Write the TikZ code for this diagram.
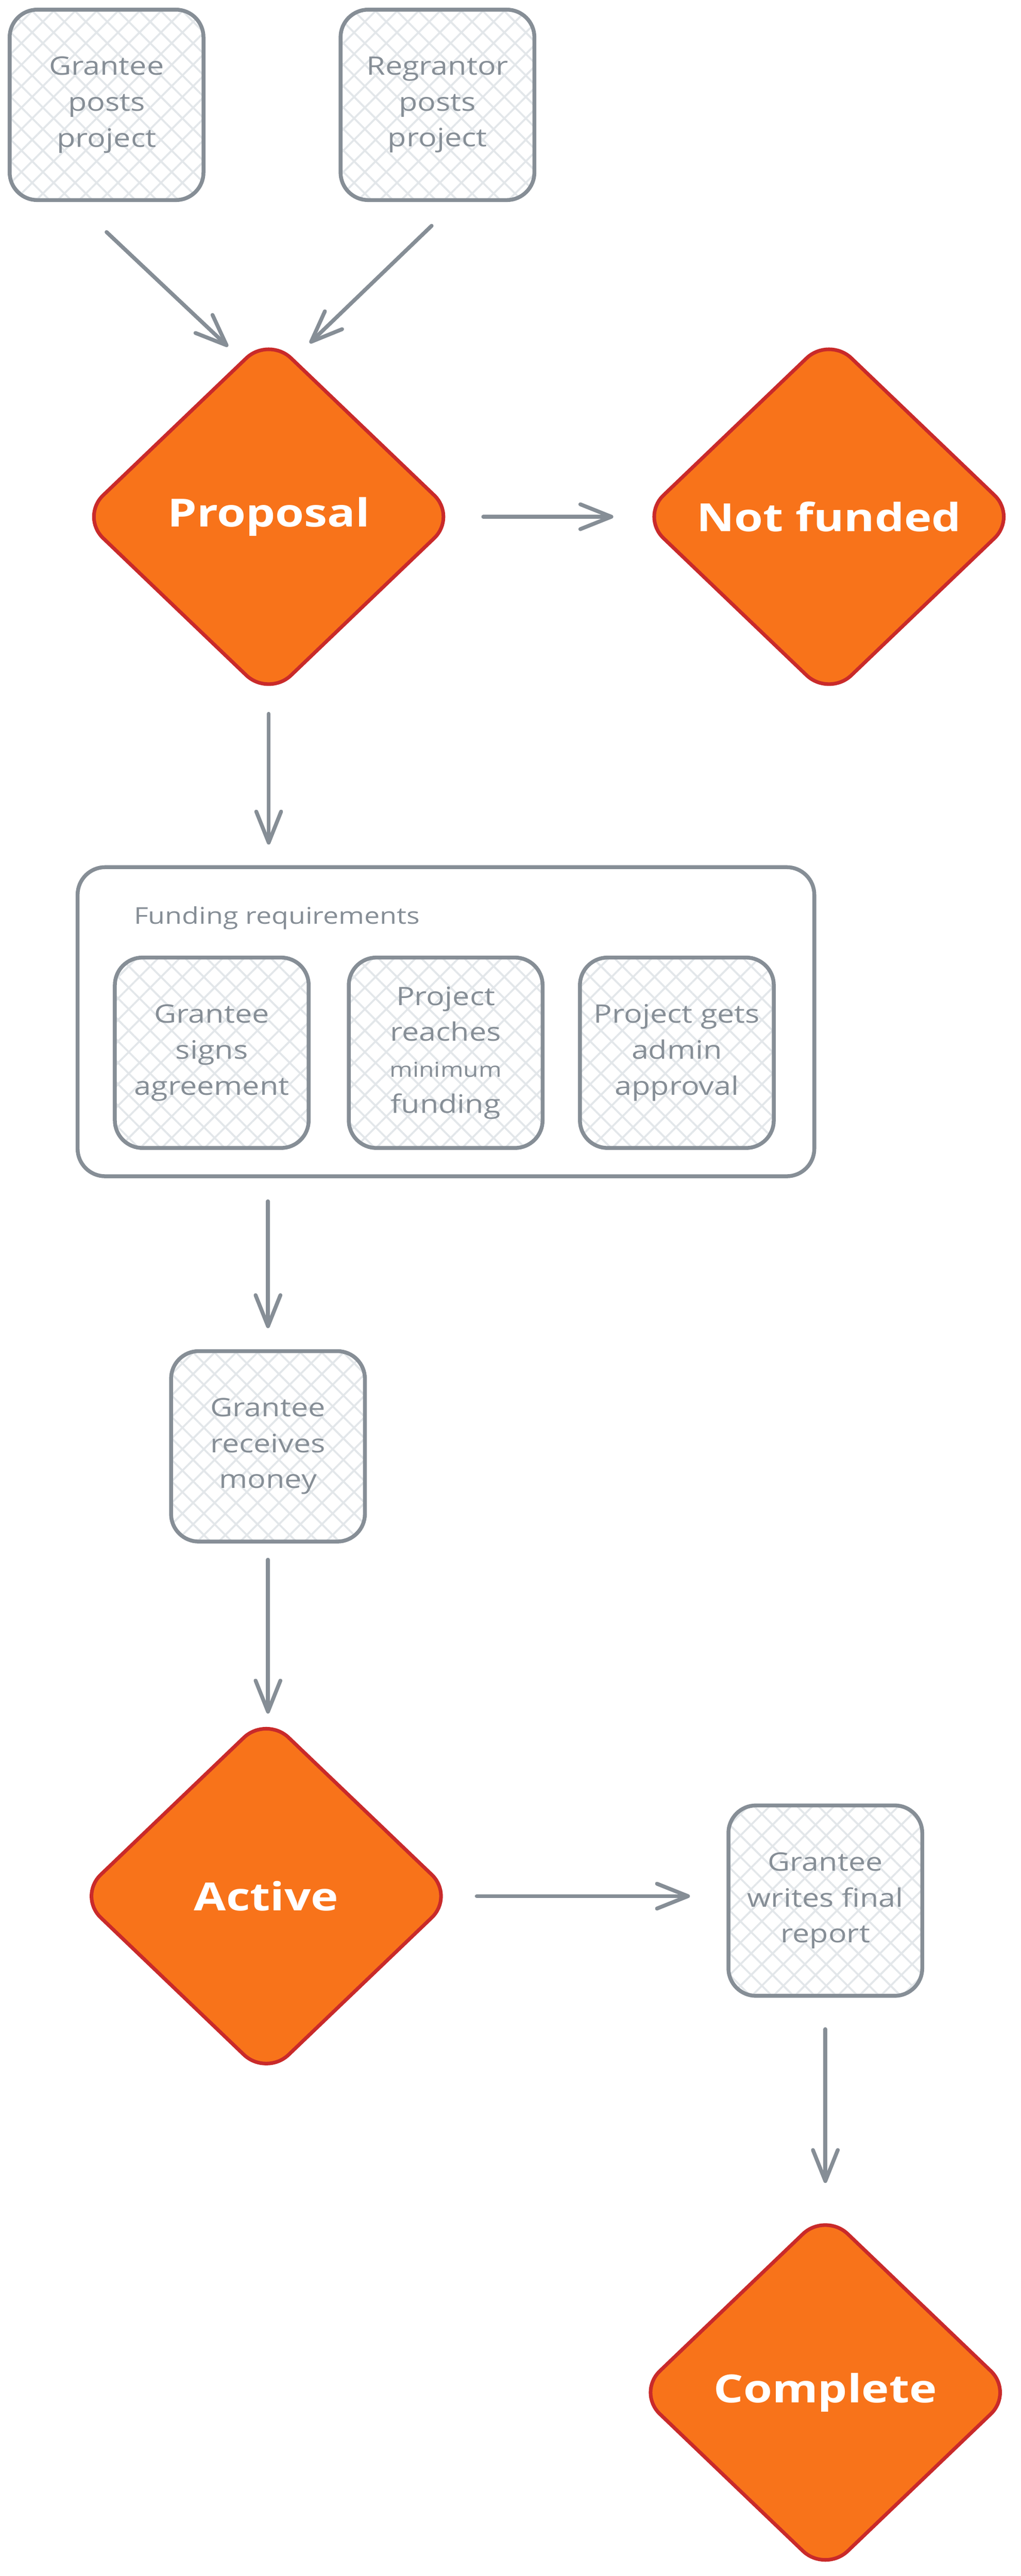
\documentclass[tikz,border=0pt]{standalone}
\usepackage{fontspec}
\setmainfont{Open Sans}[FakeStretch=1.2]
\usetikzlibrary{positioning,shapes.geometric,arrows.meta,patterns.meta}
\definecolor{linegray}{HTML}{868E96}
\definecolor{hatchgray}{HTML}{E3E7EA}
\definecolor{stateorange}{HTML}{F8731A}
\definecolor{statered}{HTML}{C92A2A}

\begin{document}
\begin{tikzpicture}[
	stepbox/.style={draw=linegray, line width=3.2pt, rounded corners=0.8cm,
		pattern={Hatch[angle=45,distance=0.44cm,line width=1.6pt]}, pattern color=hatchgray,
		minimum width=5.62cm, minimum height=5.52cm, inner sep=0pt, align=center,
		text=linegray, font=\fontsize{21}{29.6}\selectfont},
	state/.style={diamond, draw=statered, line width=3pt, fill=stateorange, rounded corners=0.9cm,
		minimum width=10.94cm, minimum height=10.48cm, inner sep=0pt, text=white,
		font=\fontsize{32}{40}\selectfont\bfseries},
	group/.style={draw=linegray, line width=3.2pt, rounded corners=0.8cm,
		minimum width=21.36cm, minimum height=8.96cm},
	flow/.style={draw=linegray, line width=3.2pt, line cap=round,
		-{Straight Barb[length=0.9cm,width=0.72cm,round]}},
	]
	\useasboundingbox (0,0) rectangle (29.6,-74.68);

	\node[stepbox] (gpost) at (3.09,-3.04) {Grantee\\posts\\project};
	\node[stepbox, right=3.89cm of gpost] (rpost) {Regrantor\\posts\\project};
	\node[state] (prop) at (7.79,-14.98) {Proposal};
	\node[state, right=5.2cm of prop] (nofund) {Not funded};

	\node[group] (req) at (12.93,-29.62) {};
	\node[anchor=base west, text=linegray, font=\fontsize{19}{24}\selectfont] (reqlabel)
		at ([xshift=1.57cm,yshift=-1.70cm]req.north west) {Funding requirements};
	\node[stepbox] (sign) at (6.14,-30.52) {Grantee\\signs\\agreement};
	\node[stepbox, right=1.05cm of sign] (reach) {Project\\reaches\\{\fontsize{17}{29.6}\selectfont minimum}\\funding};
	\node[stepbox, right=0.97cm of reach] (admin) {Project gets\\admin\\approval};

	\node[stepbox] (money) at (7.77,-41.93) {Grantee\\receives\\money};
	\node[state] (active) at (7.72,-54.97) {Active};
	\node[stepbox] (report) at (23.93,-55.10) {Grantee\\writes final\\report};
	\node[state, below=6.15cm of report] (done) {Complete};

	\coordinate (gpostout) at ([yshift=-0.9cm]gpost.south);
	\coordinate (rpostout) at ([shift={(-0.17,-0.69)}]rpost.south);
	\coordinate (propinl) at ([shift={(-1.18,-0.36)}]prop.north);
	\coordinate (propinr) at ([shift={(1.19,-0.26)}]prop.north);

	\draw[flow] (gpostout) -- (propinl);
	\draw[flow] (rpostout) -- (propinr);
	\draw[flow, shorten <=0.70cm, shorten >=0.73cm] (prop.east) -- (nofund.west);
	\draw[flow, shorten <=0.42cm, shorten >=0.6cm] (prop.south) -- (prop.south |- req.north);
	\draw[flow, shorten <=0.67cm, shorten >=0.61cm] (req.south -| money) -- (money.north);
	\draw[flow, shorten <=0.47cm] (money.south) -- (money.south |- active.north);
	\draw[flow, shorten <=0.58cm, shorten >=1.06cm] (active.east) -- (active.east -| report.west);
	\draw[flow, shorten <=0.91cm, shorten >=0.78cm] (report.south) -- (done.north);
\end{tikzpicture}
\end{document}
